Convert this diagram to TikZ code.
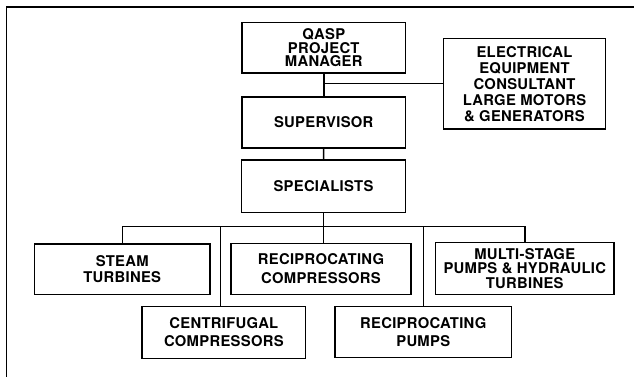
\documentclass[tikz,border=0pt]{standalone}
\usepackage{fontspec}
\setmainfont{TeX Gyre Heros}[LetterSpace=2]
\newcommand\boxfont[1]{\fontsize{14.8}{#1}\selectfont\bfseries}
\begin{document}
\begin{tikzpicture}[x=1pt,y=-1pt,
  box/.style={draw, line width=1.5pt, inner sep=0pt, align=center,
    font=\boxfont{13.3}},
  link/.style={line width=1.5pt},
  frame/.style={line width=1.9pt}]
\useasboundingbox (0,0) rectangle (634,377);
\coordinate (fbot) at (6.5,377);
\coordinate (fcorner) at (6.5,7);
\coordinate (fright) at (634,7);
\draw[frame] (fbot) -- (fcorner) -- (fright);

\node[box, minimum width=163.5pt, minimum height=50.5pt] (qasp) at (323.75,47.75) {QASP\\PROJECT\\MANAGER};
\node[box, minimum width=163.5pt, minimum height=51pt] (sup) at (323.75,122.5) {SUPERVISOR};
\node[box, minimum width=164pt, minimum height=52.5pt] (spec) at (323.5,186.25) {SPECIALISTS};
\node[box, minimum width=162pt, minimum height=90.5pt, font=\boxfont{16}] (elec) at (524.5,83.75) {ELECTRICAL\\EQUIPMENT\\CONSULTANT\\LARGE MOTORS\\\& GENERATORS};

\node[box, minimum width=175.5pt, minimum height=50.5pt, font=\boxfont{16}] (steam) at (122.25,269.25) {STEAM\\TURBINES};
\node[box, minimum width=180pt, minimum height=51pt, font=\boxfont{19}] (reccomp) at (321,269) {RECIPROCATING\\COMPRESSORS};
\node[box, minimum width=178.5pt, minimum height=51.8pt, font=\boxfont{14.5}] (multi) at (524.75,268.4) {MULTI-STAGE\\PUMPS \& HYDRAULIC\\TURBINES};
\node[box, minimum width=163.7pt, minimum height=51.8pt, font=\boxfont{18.3}] (centri) at (223.85,332.4) {CENTRIFUGAL\\COMPRESSORS};
\node[box, minimum width=176.5pt, minimum height=51pt, font=\boxfont{18.3}] (recpump) at (423.25,332.2) {RECIPROCATING\\PUMPS};

\draw[link] (qasp) -- (sup);
\draw[link] (qasp.south |- elec.west) -- (elec.west);
\draw[link] (sup) -- (spec);

\coordinate (bus) at (323.5,226.5);
\coordinate (cdrop) at (220.7,226.5);
\draw[link] (spec.south) -- (bus);
\draw[link] (bus) -| (steam.north);
\draw[link] (bus) -| (multi.north);
\draw[link] (bus) -| (recpump.north);
\draw[link] (bus) -- (bus |- reccomp.north);
\draw[link] (cdrop) -- (cdrop |- centri.north);
\end{tikzpicture}
\end{document}
